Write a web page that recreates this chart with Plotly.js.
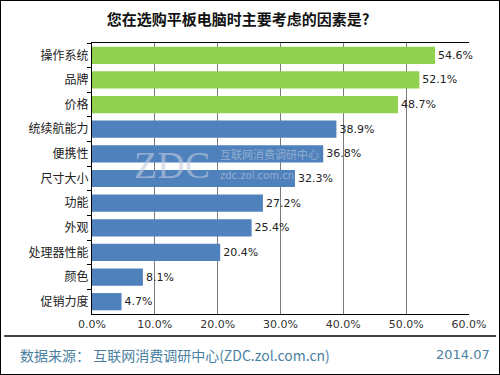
<!DOCTYPE html>
<html><head><meta charset="utf-8">
<script src="https://cdn.plot.ly/plotly-3.0.1.min.js"></script>
<style>html,body{margin:0;padding:0;background:#fff}#w{position:relative;width:500px;height:375px}#c{width:500px;height:375px}
#f{position:absolute;left:0;top:0;width:500px;height:375px;box-sizing:border-box;border:1px solid #000;pointer-events:none}</style>
</head><body><div id="w"><div id="c"></div><div id="f"></div></div>
<script>
const categories = ["操作系统","品牌","价格","统续航能力","便携性","尺寸大小","功能","外观","处理器性能","颜色","促销力度"];
const values = [54.6,52.1,48.7,38.9,36.8,32.3,27.2,25.4,20.4,8.1,4.7];
const highlighted = [true,true,true,false,false,false,false,false,false,false,false];
const xTicks = [0,10,20,30,40,50,60];
const xTickLabels = ["0.0%","10.0%","20.0%","30.0%","40.0%","50.0%","60.0%"];

const trace = {
  type:'bar', orientation:'h',
  x: values, y: categories,
  marker:{color: highlighted.map(h=>h?'#92D050':'#4F81BD')},
  text: values.map(v=>v.toFixed(1)+'%'),
  textposition:'outside', cliponaxis:false,
  textfont:{family:'DejaVu Sans, sans-serif', size:11, color:'#222'},
  hoverinfo:'none'
};
const wm = 'rgba(195,205,222,0.6)';
const layout = {
  width:500, height:375,
  margin:{l:92, r:31, t:43, b:61},
  paper_bgcolor:'#fff', plot_bgcolor:'#fff',
  showlegend:false, bargap:0.3,
  title:{text:'<b>您在选购平板电脑时主要考虑的因素是?</b>', x:0.476, xanchor:'center', y:0.947, yanchor:'middle',
    font:{family:'Noto Sans CJK SC, sans-serif', size:15, color:'#111'}},
  xaxis:{range:[0,60], tickvals:xTicks, ticktext:xTickLabels, showgrid:true, gridcolor:'#7a7a7a', gridwidth:1,
    showline:true, linecolor:'#000', linewidth:1, mirror:true, zeroline:false, ticks:'',
    tickfont:{family:'DejaVu Sans, sans-serif', size:11, color:'#333'}},
  yaxis:{autorange:'reversed', showline:true, linecolor:'#000', linewidth:1, ticks:'outside', tickson:'boundaries',
    ticklen:4, tickcolor:'#000', showgrid:false,
    tickfont:{family:'Noto Sans CJK SC, sans-serif', size:12, color:'#222'}},
  shapes:[
    {type:'line', xref:'paper', yref:'paper', x0:-0.233, x1:1.072, y0:-0.081, y1:-0.081, line:{color:'#000', width:1.5}}
  ],
  annotations:[
    {text:'数据来源： 互联网消费调研中心(ZDC.zol.com.cn)', xref:'paper', yref:'paper', x:-0.196, y:-0.151, xanchor:'left', yanchor:'middle', showarrow:false,
      font:{family:'Noto Sans CJK SC, sans-serif', size:14, color:'#4a7f9f'}},
    {text:'2014.07', xref:'paper', yref:'paper', x:1.061, y:-0.151, xanchor:'right', yanchor:'middle', showarrow:false,
      font:{family:'DejaVu Sans, sans-serif', size:13, color:'#4a7f9f'}},
    {text:'ZDC', xref:'paper', yref:'paper', x:0.212, y:0.55, xanchor:'center', yanchor:'middle', showarrow:false,
      font:{family:'Liberation Serif, serif', size:38, color:wm}},
    {text:'互联网消费调研中心', xref:'paper', yref:'paper', x:0.334, y:0.59, xanchor:'left', yanchor:'middle', showarrow:false,
      font:{family:'Noto Sans CJK SC, sans-serif', size:11, color:wm}},
    {text:'zdc.zol.com.cn', xref:'paper', yref:'paper', x:0.334, y:0.51, xanchor:'left', yanchor:'middle', showarrow:false,
      font:{family:'DejaVu Sans, sans-serif', size:10, color:wm}}
  ]
};
Plotly.newPlot('c',[trace],layout,{staticPlot:true});
</script></body></html>
